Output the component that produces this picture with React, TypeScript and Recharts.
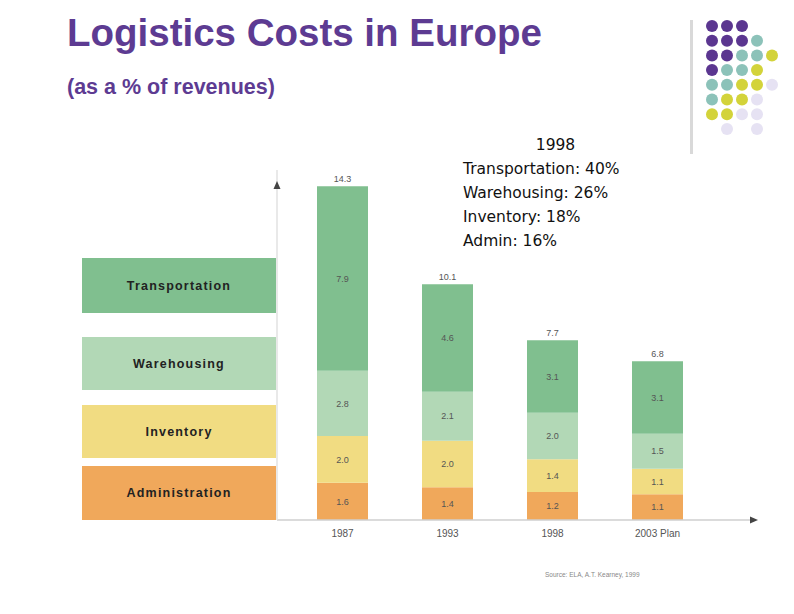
import React from 'react';
import { BarChart, Bar, XAxis, YAxis, LabelList } from 'recharts';

// values (% of revenues)
const years = ['1987', '1993', '1998', '2003 Plan'];
const administration = [1.6, 1.4, 1.2, 1.1];
const inventory = [2.0, 2.0, 1.4, 1.1];
const warehousing = [2.8, 2.1, 2.0, 1.5];
const transportation = [7.9, 4.6, 3.1, 3.1];
const totals = [14.3, 10.1, 7.7, 6.8];

const legendNames = ['Transportation', 'Warehousing', 'Inventory', 'Administration'];
const noteLines = ['1998', 'Transportation: 40%', 'Warehousing: 26%', 'Inventory: 18%', 'Admin: 16%'];

const COLORS = {
    Transportation: '#80bf8f',
    Warehousing: '#b2d8b6',
    Inventory: '#f1dc82',
    Administration: '#f0a85b',
};

const PURPLE = '#5d3b92';

const data = years.map((year, i) => ({
    year,
    Administration: administration[i],
    Inventory: inventory[i],
    Warehousing: warehousing[i],
    Transportation: transportation[i],
    total: totals[i],
}));

// left-hand legend boxes, lined up with the 1987 bar
const legendBoxes = [
    { top: 258, height: 55 },
    { top: 337, height: 53 },
    { top: 405, height: 53 },
    { top: 466, height: 54 },
];

// decorative dot pattern in the corner: rows of [column, colour]
const DOT = { p: '#5b3690', t: '#8cc2b9', y: '#d3d33a', l: '#e6e2f3' };
const dotRows: string[] = ['ppp  ', 'pppt ', 'pptty', 'ptty ', 'ttyyl', 'tyyl ', 'yyll ', ' l l '];

const App: React.FC = () => {
    return (
        <div style={{ position: 'absolute', left: 0, top: 0, width: 794, height: 614, background: '#fff', fontFamily: '"Liberation Sans", Arial, sans-serif', overflow: 'hidden' }}>
            <div style={{ position: 'absolute', left: 67, top: 11, fontSize: 38.5, fontWeight: 'bold', color: PURPLE, whiteSpace: 'nowrap' }}>
                Logistics Costs in Europe
            </div>
            <div style={{ position: 'absolute', left: 67, top: 75, fontSize: 21.5, fontWeight: 'bold', color: PURPLE, whiteSpace: 'nowrap' }}>
                (as a % of revenues)
            </div>

            <svg style={{ position: 'absolute', left: 0, top: 0 }} width={794} height={614}>
                <rect x={690} y={20} width={3} height={134} fill="#d9d9d9" />
                {dotRows.map((row, r) =>
                    row.split('').map((c, col) =>
                        c === ' ' ? null : (
                            <circle key={`${r}-${col}`} cx={712 + col * 15} cy={26 + r * 14.7} r={6} fill={DOT[c as keyof typeof DOT]} />
                        )
                    )
                )}
            </svg>

            {legendNames.map((name, i) => (
                <div key={name} style={{
                    position: 'absolute', left: 82, top: legendBoxes[i].top, width: 194, height: legendBoxes[i].height,
                    background: COLORS[name as keyof typeof COLORS], display: 'flex', alignItems: 'center', justifyContent: 'center',
                    fontSize: 12.5, fontWeight: 'bold', color: '#222', letterSpacing: 1.2,
                }}>
                    {name}
                </div>
            ))}

            <div style={{ position: 'absolute', left: 463, top: 133, fontFamily: '"DejaVu Sans", sans-serif', fontSize: 15.5, lineHeight: '24px', color: '#111' }}>
                {noteLines.map((line, i) => (
                    <div key={i} style={{ textAlign: i === 0 ? 'center' : 'left', width: i === 0 ? 185 : undefined, whiteSpace: 'nowrap' }}>{line}</div>
                ))}
            </div>

            <div style={{ position: 'absolute', left: 545, top: 571, fontSize: 6.5, color: '#888', whiteSpace: 'nowrap' }}>
                Source: ELA, A.T. Kearney, 1999
            </div>

            <div style={{ position: 'absolute', left: 0, top: 0 }}>
                <BarChart width={794} height={614} data={data} margin={{ top: 170, right: 39, bottom: 64, left: 217 }} barSize={51}>
                    <XAxis dataKey="year" height={30} padding={{ left: 13, right: 45 }} tickLine={false}
                        axisLine={{ stroke: '#cfcfcf', strokeWidth: 1.5 }} tick={{ fontSize: 10, fill: '#555', dy: 2 }} interval={0} />
                    <YAxis width={60} domain={[0, 15]} tick={false} tickLine={false} axisLine={{ stroke: '#e2e2e2', strokeWidth: 1.5 }} />
                    <Bar dataKey="Administration" stackId="a" fill={COLORS.Administration} isAnimationActive={false}>
                        <LabelList dataKey="Administration" position="center" fontSize={9} fill="#555" formatter={(v: number) => v.toFixed(1)} />
                    </Bar>
                    <Bar dataKey="Inventory" stackId="a" fill={COLORS.Inventory} isAnimationActive={false}>
                        <LabelList dataKey="Inventory" position="center" fontSize={9} fill="#555" formatter={(v: number) => v.toFixed(1)} />
                    </Bar>
                    <Bar dataKey="Warehousing" stackId="a" fill={COLORS.Warehousing} isAnimationActive={false}>
                        <LabelList dataKey="Warehousing" position="center" fontSize={9} fill="#555" formatter={(v: number) => v.toFixed(1)} />
                    </Bar>
                    <Bar dataKey="Transportation" stackId="a" fill={COLORS.Transportation} isAnimationActive={false}>
                        <LabelList dataKey="Transportation" position="center" fontSize={9} fill="#555" formatter={(v: number) => v.toFixed(1)} />
                        <LabelList dataKey="total" position="top" offset={4} fontSize={9} fill="#555" formatter={(v: number) => v.toFixed(1)} />
                    </Bar>
                </BarChart>
            </div>

            {/* arrow heads on the axes */}
            <svg style={{ position: 'absolute', left: 0, top: 0, pointerEvents: 'none' }} width={794} height={614}>
                <polygon points="277,181 273.5,189 280.5,189" fill="#444" />
                <polygon points="758,520 750,516.5 750,523.5" fill="#444" />
            </svg>
        </div>
    );
};

export default App;
